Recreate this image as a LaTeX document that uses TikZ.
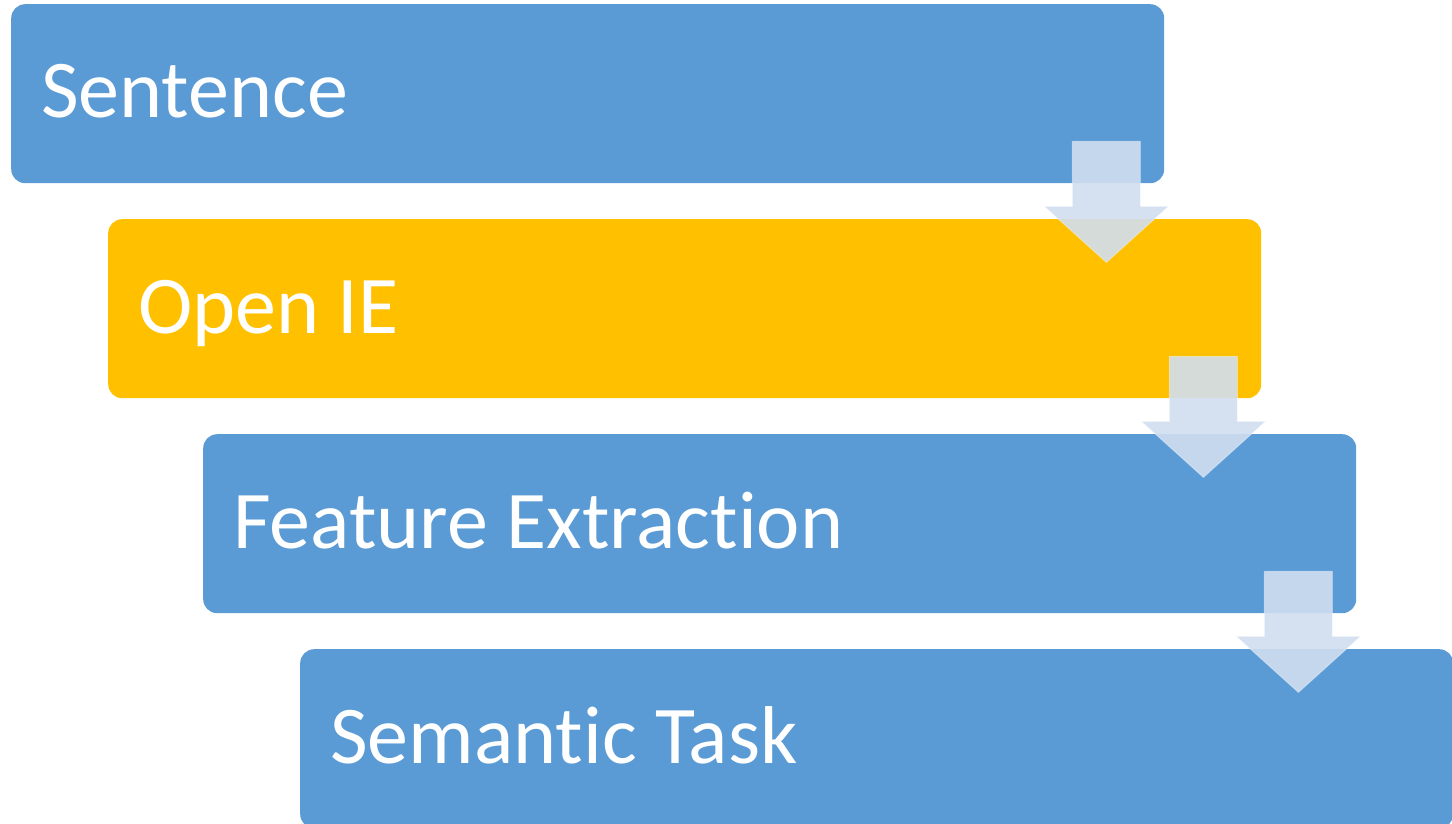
\documentclass[tikz,border=0pt]{standalone}
\usepackage{fontspec}
\setmainfont{Carlito}[Ligatures=NoCommon]
\usetikzlibrary{calc}
\definecolor{stepblue}{RGB}{91,155,213}
\definecolor{steporange}{RGB}{255,192,0}
\definecolor{flowarrow}{RGB}{208,222,240}
\tikzset{
  x=1pt, y=-1pt,
  stepbox/.style={draw=none, rounded corners=14pt, anchor=north west,
    minimum width=1153pt, minimum height=179pt, inner sep=0pt},
  steplabel/.style={anchor=base west, text=white, inner sep=0pt,
    font=\fontsize{82}{98}\selectfont},
  flow/.style={fill=flowarrow, fill opacity=0.9, draw=white, draw opacity=0.35, line width=1pt}
}
\begin{document}
\begin{tikzpicture}
\useasboundingbox (0,0) rectangle (1452,824);
% four stacked process boxes
\node[stepbox, fill=stepblue]   (b1) at (11,4)    {};
\node[stepbox, fill=steporange] (b2) at (108,219) {};
\node[stepbox, fill=stepblue]   (b3) at (203,434) {};
\node[stepbox, fill=stepblue]   (b4) at (300,649) {};
% labels
\node[steplabel] (s1) at ($(b1.north west)+(30,114)$) {Sentence};
\node[steplabel] (s2) at ($(b2.north west)+(30,114)$) {Open IE};
\node[steplabel] (s3) at ($(b3.north west)+(30,114)$) {Feature Extraction};
\node[steplabel] (s4) at ($(b4.north west)+(30,114)$) {Semantic Task};
% down arrows from each box into the next one
\foreach \b in {b1,b2,b3} {
  \path[flow] ($(\b.south east)+(-92,-42)$) coordinate (t)
    -- ++(68,0) -- ++(0,65) -- ++(28,0) -- ++(-62,56) -- ++(-62,-56)
    -- ++(28,0) -- cycle;
}
\end{tikzpicture}
\end{document}
